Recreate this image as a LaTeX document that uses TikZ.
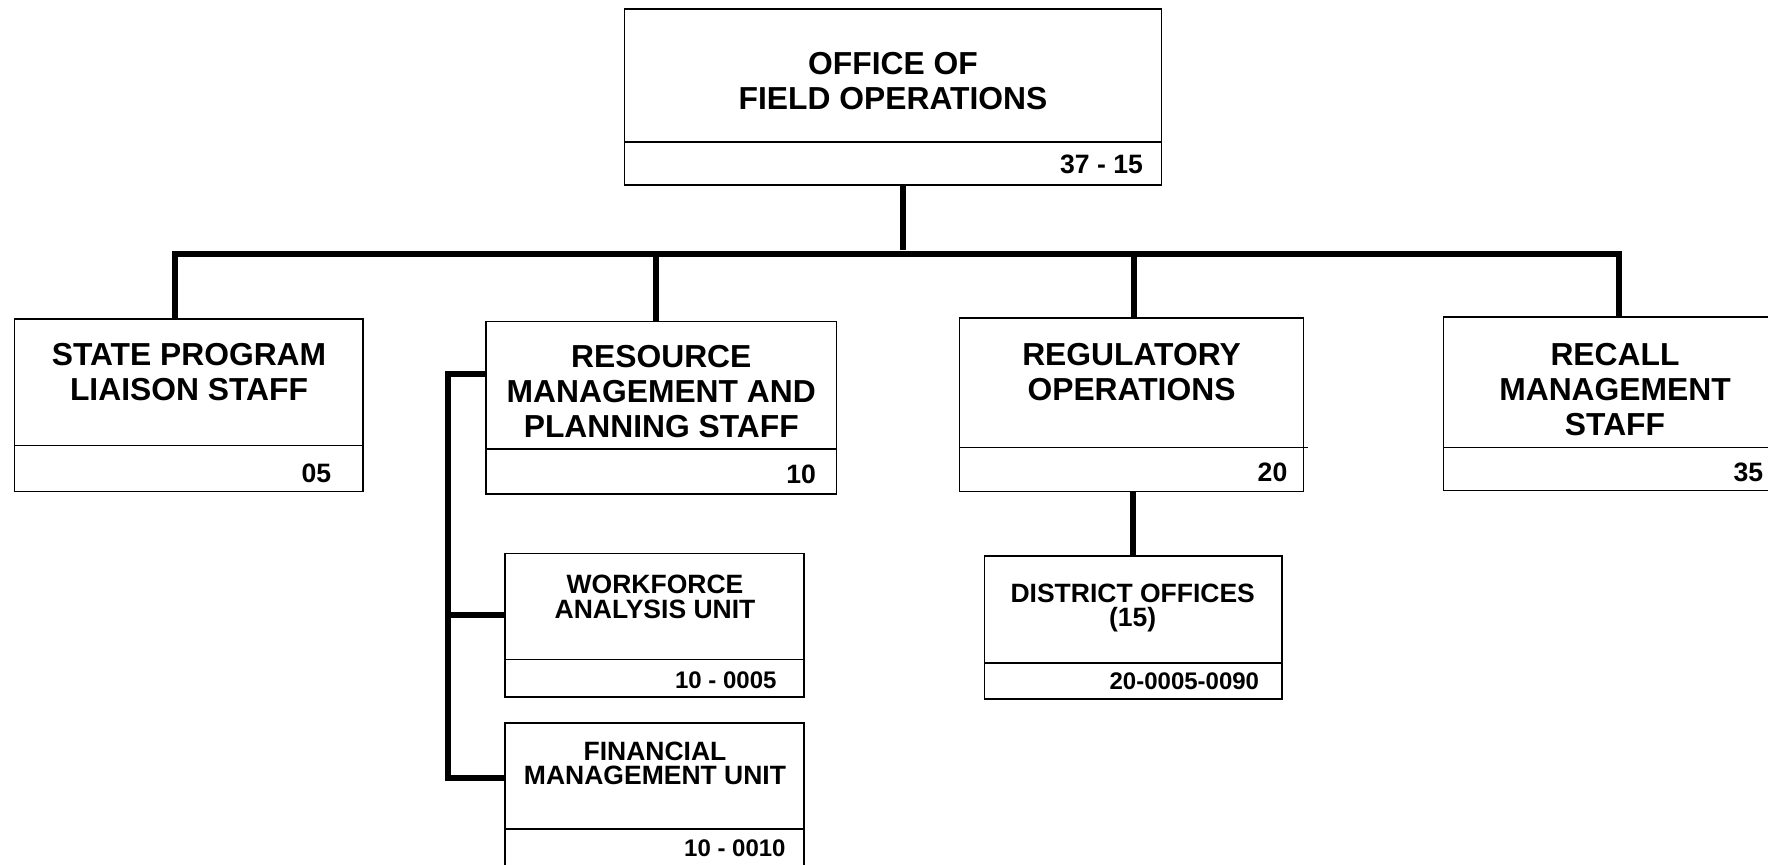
\documentclass[tikz,border=0pt]{standalone}
\usepackage{fontspec}
\setmainfont{Liberation Sans}
\usetikzlibrary{calc}
\begin{document}
\begin{tikzpicture}[x=0.5pt,y=-0.5pt,
  box/.style 2 args={draw, line width=0.75pt, minimum width=#1*0.5pt, minimum height=#2*0.5pt, inner sep=0pt, outer sep=0pt},
  divline/.style={line width=0.75pt},
  conn/.style={line width=3pt},
  title/.style={align=center, font=\bfseries\fontsize{15.9}{17.5}\selectfont, inner sep=0pt},
  subtitle/.style={align=center, font=\bfseries\fontsize{13.25}{12.4}\selectfont, inner sep=0pt},
  num/.style={anchor=east, font=\bfseries\fontsize{13.3}{14}\selectfont, inner sep=0pt},
  subnum/.style={anchor=east, font=\bfseries\fontsize{12}{13}\selectfont, inner sep=0pt}]
\useasboundingbox (0,0) rectangle (1768,864);
\fill[white] (0,0) rectangle (1768,864);

% boxes
\node[box={536.7}{175.9}] (top) at (893.05,96.95) {};
\node[box={348.4}{172.5}] (spl) at (188.9,405.35) {};
\node[box={350.7}{172.5}] (rmp) at (661.35,407.65) {};
\node[box={343.9}{173.6}] (reg) at (1131.55,404.8) {};
\node[box={346.7}{173.6}] (rec) at (1616.65,403.7) {};
\node[box={297.7}{143.2}] (dist) at (1133.25,627.5) {};
\node[box={298.8}{143.2}] (wf) at (654.6,625.3) {};
\node[box={298.8}{143.2}] (fin) at (654.6,794.4) {};

% dividers
\draw[divline] ([yshift=21.4pt]top.south west) -- ([yshift=21.4pt]top.south east);
\draw[divline] ([yshift=23.1pt]spl.south west) -- ([yshift=23.1pt]spl.south east);
\draw[divline] ([yshift=22.55pt]rmp.south west) -- ([yshift=22.55pt]rmp.south east);
\draw[divline] ([yshift=21.95pt]reg.south west) -- ([yshift=21.95pt,xshift=2.25pt]reg.south east);
\draw[divline] ([yshift=21.4pt]rec.south west) -- ([yshift=21.4pt]rec.south east);
\draw[divline] ([yshift=18.05pt]dist.south west) -- ([yshift=18.05pt]dist.south east);
\draw[divline] ([yshift=18.65pt]wf.south west) -- ([yshift=18.65pt]wf.south east);
\draw[divline] ([yshift=18.6pt]fin.south west) -- ([yshift=18.6pt]fin.south east);

% texts
\node[title] (topT) at (893,80.6) {OFFICE OF\\FIELD OPERATIONS};
\node[num] (topN) at (1143.4,164.6) {37 - 15};
\node[title] (splT) at (189,371.6) {STATE PROGRAM\\LIAISON STAFF};
\node[num] (splN) at (331.5,473.6) {05};
\node[title] (rmpT) at (661.3,392) {RESOURCE\\MANAGEMENT AND\\PLANNING STAFF};
\node[num] (rmpN) at (816.4,474.7) {10};
\node[title] (regT) at (1131.5,371.6) {REGULATORY\\OPERATIONS};
\node[num] (regN) at (1287.7,472.5) {20};
\node[title] (recT) at (1615,390) {RECALL\\MANAGEMENT\\STAFF};
\node[num] (recN) at (1763.6,472.5) {35};
\node[subtitle] (distT) at (1132.7,608) {DISTRICT OFFICES\\(15)};
\node[subnum] (distN) at (1259.5,681.1) {20-0005-0090};
\node[subtitle] (wfT) at (655,596.5) {WORKFORCE\\ANALYSIS UNIT};
\node[subnum] (wfN) at (776.9,680) {10 - 0005};
\node[subtitle] (finT) at (655,763.4) {FINANCIAL\\MANAGEMENT UNIT};
\node[subnum] (finN) at (786,848) {10 - 0010};

% connectors
\coordinate (barL) at (174.8,254.3);
\coordinate (barR) at (1619.2,254.3);
\coordinate (brk) at (447.7,0);
\coordinate (topS) at ([xshift=5.1pt]top.south);
\coordinate (topE) at ([yshift=2.4pt]topS |- barL);
\coordinate (rmpN0) at ([xshift=-2.5pt]rmp.north);
\coordinate (regN0) at ([xshift=1.4pt]reg.north);
\coordinate (rmpW) at ([yshift=16.6pt]rmp.west);
\coordinate (wfW) at ([yshift=5.4pt]wf.west);
\coordinate (finW) at ([yshift=8.2pt]fin.west);

\draw[conn] (topS) -- (topE);
\draw[conn] (spl.north -| barL) -- (barL) -- (barR) -- (rec.north -| barR);
\draw[conn] (rmpN0) -- (rmpN0 |- barL);
\draw[conn] (regN0) -- (regN0 |- barL);
\draw[conn] (dist.north) -- (dist.north |- reg.south);
\draw[conn] (rmpW) -| (finW -| brk) -- (finW);
\draw[conn] (wfW) -- (wfW -| brk);
\end{tikzpicture}
\end{document}
